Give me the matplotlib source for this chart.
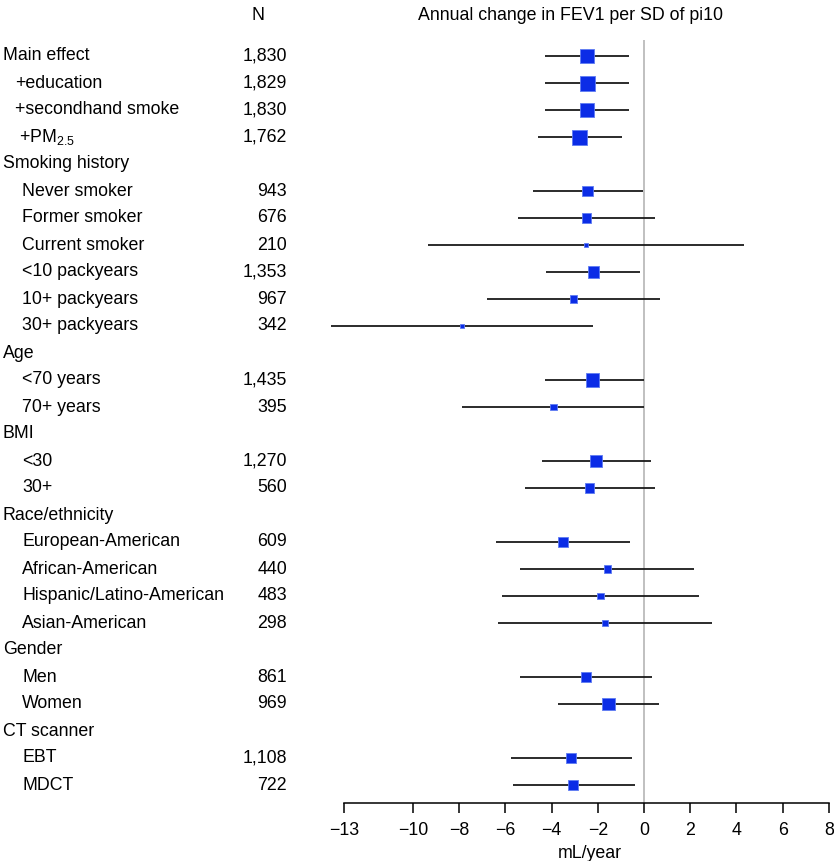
import matplotlib
matplotlib.use("Agg")
import matplotlib.pyplot as plt
import matplotlib.transforms as mtransforms

plt.rcParams['font.family'] = ['Liberation Sans', 'DejaVu Sans']
plt.rcParams['mathtext.fontset'] = 'custom'
plt.rcParams['mathtext.rm'] = 'Liberation Sans'
plt.rcParams['mathtext.it'] = 'Liberation Sans'

# ---------------- data ----------------
row_labels = ["Main effect", "+education", "+secondhand smoke", "+PM$_{\\mathregular{2.5}}$",
              "Smoking history", "Never smoker", "Former smoker", "Current smoker",
              "<10 packyears", "10+ packyears", "30+ packyears",
              "Age", "<70 years", "70+ years",
              "BMI", "<30", "30+",
              "Race/ethnicity", "European-American", "African-American",
              "Hispanic/Latino-American", "Asian-American",
              "Gender", "Men", "Women",
              "CT scanner", "EBT", "MDCT"]
row_n = ["1,830", "1,829", "1,830", "1,762",
         "", "943", "676", "210", "1,353", "967", "342",
         "", "1,435", "395",
         "", "1,270", "560",
         "", "609", "440", "483", "298",
         "", "861", "969",
         "", "1,108", "722"]

# estimates / 95% CI for rows that have data (in order)
estimate = [-2.47, -2.43, -2.46, -2.78,
            -2.44, -2.49, -2.50, -2.18, -3.06, -7.88,
            -2.24, -3.91,
            -2.07, -2.35,
            -3.50, -1.59, -1.90, -1.68,
            -2.51, -1.53,
            -3.16, -3.07]
ci_low = [-4.29, -4.29, -4.29, -4.59,
          -4.79, -5.44, -9.37, -4.25, -6.78, -13.57,
          -4.28, -7.88,
          -4.41, -5.16,
          -6.40, -5.35, -6.16, -6.32,
          -5.37, -3.74,
          -5.75, -5.68]
ci_high = [-0.63, -0.63, -0.63, -0.94,
           -0.03, 0.47, 4.32, -0.16, 0.68, -2.21,
           -0.01, 0.00,
           0.32, 0.47,
           -0.60, 2.15, 2.40, 2.93,
           0.35, 0.66,
           -0.53, -0.40]
# relative weight (box size) of each estimate
weight = [14.6, 15.0, 14.6, 15.0,
          10.5, 9.2, 4.4, 11.6, 7.5, 4.4,
          13.3, 6.8,
          12.2, 9.5,
          9.5, 7.1, 6.8, 5.4,
          10.2, 12.9,
          10.2, 10.2]

xticks = [-13, -10, -8, -6, -4, -2, 0, 2, 4, 6, 8]
title = "Annual change in FEV1 per SD of pi10"
xlabel = "mL/year"
n_header = "N"

# ---------------- layout ----------------
W, H = 834, 861
DPI = 100
fig = plt.figure(figsize=(W / DPI, H / DPI), dpi=DPI)

x0_pix, ppu = 644.0, 23.1      # pixel of zero, pixels per unit
row0_pix, row_step = 56.0, 27.0
ax_left_pix, ax_right_pix = 300.0, 834.0
ax_top_pix, ax_bot_pix = 40.0, 803.0

ax = fig.add_axes([ax_left_pix / W, 1 - ax_bot_pix / H,
                   (ax_right_pix - ax_left_pix) / W, (ax_bot_pix - ax_top_pix) / H])
ax.set_xlim((ax_left_pix - x0_pix) / ppu, (ax_right_pix - x0_pix) / ppu)
ax.set_ylim((ax_bot_pix - row0_pix) / row_step, (ax_top_pix - row0_pix) / row_step)

data_rows = [i for i, n in enumerate(row_n) if n != ""]

ax.axvline(0, color="#b5b5b5", lw=1.2, zorder=1)
ax.hlines(data_rows, ci_low, ci_high, color="#1a1a1a", lw=1.3, zorder=2, clip_on=False)
ax.scatter(estimate, data_rows, marker="s",
           s=[(w * 72 / DPI) ** 2 for w in weight],
           color="#0b2ce6", edgecolors="#5f7cf2", linewidths=0.6, zorder=3, clip_on=False)

for side in ("top", "right", "left"):
    ax.spines[side].set_visible(False)
ax.spines["bottom"].set_bounds(xticks[0], xticks[-1])
ax.spines["bottom"].set_linewidth(1.1)
ax.set_yticks([])
ax.set_xticks(xticks)
ax.set_xticklabels([f"\u2212{abs(t)}" if t < 0 else str(t) for t in xticks])
ax.tick_params(axis="x", direction="out", length=7, width=1.1, labelsize=12.8, pad=7)
ax.set_xlabel(xlabel, fontsize=12.8, labelpad=5)
ax.xaxis.set_label_coords((590 - ax_left_pix) / (ax_right_pix - ax_left_pix), -0.055)

# labels
trans = mtransforms.blended_transform_factory(fig.transFigure, ax.transData)
for i, (lab, n) in enumerate(zip(row_labels, row_n)):
    if i == 0 or n == "":
        xl = 3
    elif i in (1, 2):
        xl = 15
    elif i == 3:
        xl = 19
    else:
        xl = 22
    ax.text(xl / W, i, lab, transform=trans, ha="left", va="center", fontsize=12.8,
            clip_on=False)
    if n:
        ax.text(287 / W, i, n, transform=trans, ha="right", va="center", fontsize=12.8,
                clip_on=False)

fig.text(258 / W, 1 - 15 / H, n_header, ha="center", va="center", fontsize=12.8)
fig.text(570 / W, 1 - 15 / H, title, ha="center", va="center", fontsize=12.8)

fig.savefig("out.png", dpi=DPI)
